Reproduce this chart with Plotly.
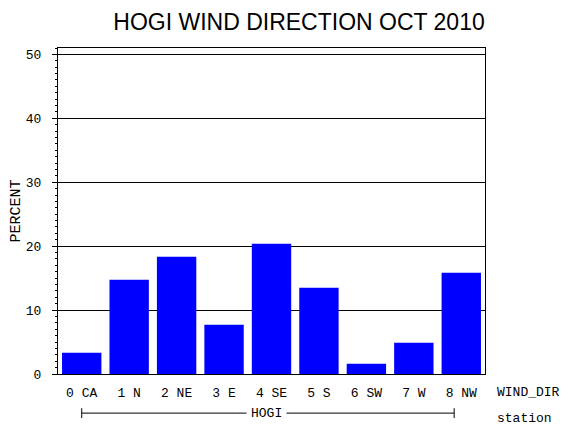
import plotly.graph_objects as go

categories = ["0 CA", "1 N", "2 NE", "3 E", "4 SE", "5 S", "6 SW", "7 W", "8 NW"]
percent = [3.33, 14.74, 18.33, 7.71, 20.36, 13.49, 1.61, 4.90, 15.83]
y_ticks = [0, 10, 20, 30, 40, 50]
title_text = "HOGI WIND DIRECTION OCT 2010"
group_label = "HOGI"
x_var_label = "WIND_DIR"
group_var_label = "station"
y_label = "PERCENT"

MONO = "Liberation Mono"
W, H = 562, 422  # page body adds an 8px margin
fig = go.Figure()
fig.add_trace(go.Bar(x=list(range(len(categories))), y=percent,
                     marker=dict(color="#0000FF", line=dict(width=0))))

fig.update_layout(
    width=W, height=H,
    margin=dict(l=50, r=85, t=40, b=56),
    paper_bgcolor="white", plot_bgcolor="white",
    bargap=0.17,
    showlegend=False,
    title=dict(text=title_text, x=291 / W, xanchor="center", y=1 - 14 / H, yanchor="middle",
               font=dict(family="Liberation Sans", size=23, color="black")),
    font=dict(family=MONO, size=13, color="black"),
)
fig.update_xaxes(
    range=[-0.5, 8.5], tickmode="array", tickvals=list(range(len(categories))),
    ticktext=categories, ticks="", showgrid=False, zeroline=False, automargin=False,
    showline=True, linecolor="black", linewidth=1, mirror=True,
    tickfont=dict(family=MONO, size=13, color="black"), ticklabelstandoff=6,
)
fig.update_yaxes(
    range=[0, 51], tickmode="array", tickvals=y_ticks, automargin=False,
    ticks="outside", ticklen=5, tickcolor="black", tickwidth=1,
    minor=dict(dtick=1, ticks="outside", ticklen=2, tickcolor="black", showgrid=False),
    showgrid=True, gridcolor="black", gridwidth=1, zeroline=False,
    showline=True, linecolor="black", linewidth=1, mirror=True,
    tickfont=dict(family=MONO, size=13, color="black"), ticklabelstandoff=8,
    title=dict(text=y_label, font=dict(family=MONO, size=15, color="black"), standoff=9),
)

# group bracket under the category labels
yb = -0.12
fig.add_shape(type="line", xref="x", yref="paper", x0=0, x1=7.85, y0=yb, y1=yb,
              line=dict(color="black", width=1))
for xv in (0, 7.85):
    fig.add_shape(type="line", xref="x", yref="paper", x0=xv, x1=xv, y0=yb + 0.015, y1=yb - 0.015,
                  line=dict(color="black", width=1))
fig.add_annotation(text=group_label, xref="x", yref="paper", x=3.9, y=yb,
                   xanchor="center", yanchor="middle", showarrow=False, bgcolor="white",
                   borderpad=4, font=dict(family=MONO, size=13))
fig.add_annotation(text=x_var_label, xref="paper", yref="paper", x=1.023, y=-0.058,
                   xanchor="left", yanchor="middle", showarrow=False,
                   font=dict(family=MONO, size=13))
fig.add_annotation(text=group_var_label, xref="paper", yref="paper", x=1.023, y=-0.135,
                   xanchor="left", yanchor="middle", showarrow=False,
                   font=dict(family=MONO, size=13))

fig.write_html("out.html")
